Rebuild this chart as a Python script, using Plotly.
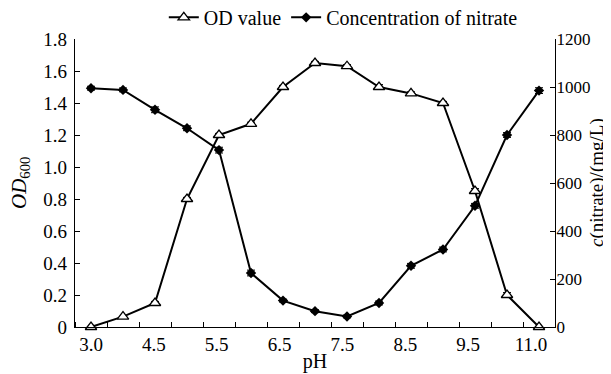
import plotly.graph_objects as go

# pH categories (15 sampling points) and axis tick labels
ph_points = list(range(15))
x_tick_labels = ["3.0", "4.5", "5.5", "6.5", "7.5", "8.5", "9.5", "11.0"]

od_values = [0.0, 0.065, 0.15, 0.80, 1.20, 1.27, 1.50, 1.65, 1.63, 1.50, 1.46, 1.40, 0.85, 0.20, 0.0]
od_err = [0, 0, 0.01, 0.01, 0.01, 0.01, 0.01, 0.01, 0.01, 0.015, 0.01, 0.01, 0.015, 0.015, 0]

nitrate_values = [995, 988, 905, 828, 737, 225, 110, 66, 44, 100, 255, 323, 505, 800, 985]
nitrate_err = [8, 8, 12, 10, 12, 12, 6, 6, 6, 8, 10, 10, 10, 10, 12]

y_left_ticks = [0, 0.2, 0.4, 0.6, 0.8, 1.0, 1.2, 1.4, 1.6, 1.8]
y_left_labels = ["0", "0.2", "0.4", "0.6", "0.8", "1.0", "1.2", "1.4", "1.6", "1.8"]
y_right_ticks = [0, 200, 400, 600, 800, 1000, 1200]

FONT = "Liberation Serif"

fig = go.Figure()
fig.add_trace(go.Scatter(
    x=ph_points, y=od_values, name="OD value", mode="lines+markers",
    line=dict(color="black", width=2),
    marker=dict(symbol="triangle-up", size=10, color="white",
                line=dict(color="black", width=1.3)),
    error_y=dict(type="data", array=od_err, color="black", thickness=1, width=4),
    cliponaxis=False, yaxis="y",
))
fig.add_trace(go.Scatter(
    x=ph_points, y=nitrate_values, name="Concentration of nitrate", mode="lines+markers",
    line=dict(color="black", width=2),
    marker=dict(symbol="diamond", size=8, color="black"),
    error_y=dict(type="data", array=nitrate_err, color="black", thickness=1, width=4),
    cliponaxis=False, yaxis="y2",
))

n_labels = len(x_tick_labels)
label_span = 13.75
tick_positions = [i * label_span / (n_labels - 1) for i in range(n_labels)]
boundaries = [p - 0.5 for p in ph_points] + [ph_points[-1] + 0.5]

fig.update_layout(
    width=611, height=374,
    margin=dict(l=67, r=64, t=31, b=55, autoexpand=False),
    paper_bgcolor="white", plot_bgcolor="white",
    font=dict(family=FONT, size=18, color="black"),
    showlegend=True,
    legend=dict(orientation="h", xref="container", yref="container",
                x=0.255, xanchor="left", y=0.975, yanchor="middle",
                font=dict(family=FONT, size=20), bgcolor="rgba(0,0,0,0)",
                itemwidth=30, tracegroupgap=0),
    xaxis=dict(
        range=[-0.5, 14.5], showline=True, linecolor="black", linewidth=1.3,
        showgrid=False, zeroline=False, automargin=False,
        tickmode="array", tickvals=tick_positions, ticktext=x_tick_labels, ticks="",
        minor=dict(tickmode="array", tickvals=boundaries, ticks="inside", ticklen=5,
                   tickcolor="black", tickwidth=1.3, showgrid=False),
        title=dict(text="pH", font=dict(family=FONT, size=20), standoff=0),
        tickfont=dict(family=FONT, size=19),
    ),
    yaxis=dict(
        range=[0, 1.8], showline=True, linecolor="black", linewidth=1.3,
        showgrid=False, zeroline=False, automargin=False,
        tickmode="array", tickvals=y_left_ticks, ticktext=y_left_labels,
        ticks="inside", ticklen=5, tickcolor="black", tickwidth=1.3,
        ticklabelstandoff=3,
        tickfont=dict(family=FONT, size=19),
    ),
    yaxis2=dict(
        range=[0, 1200], overlaying="y", side="right", showline=True, linecolor="black",
        linewidth=1.3, showgrid=False, zeroline=False, automargin=False,
        tickmode="array", tickvals=y_right_ticks,
        ticks="inside", ticklen=5, tickcolor="black", tickwidth=1.3,
        ticklabelstandoff=-3,
        tickfont=dict(family=FONT, size=17),
    ),
    annotations=[
        dict(text="<i>OD</i><sub>600</sub>", xref="paper", yref="paper",
             x=(12 - 67) / 480, y=0.5, xanchor="center", yanchor="middle",
             textangle=-90, showarrow=False, font=dict(family=FONT, size=21)),
        dict(text="<i>c</i>(nitrate)/(mg/L)", xref="paper", yref="paper",
             x=(589 - 67) / 480, y=0.5, xanchor="center", yanchor="middle",
             textangle=-90, showarrow=False, font=dict(family=FONT, size=19)),
    ],
)

fig.write_html("out.html")
